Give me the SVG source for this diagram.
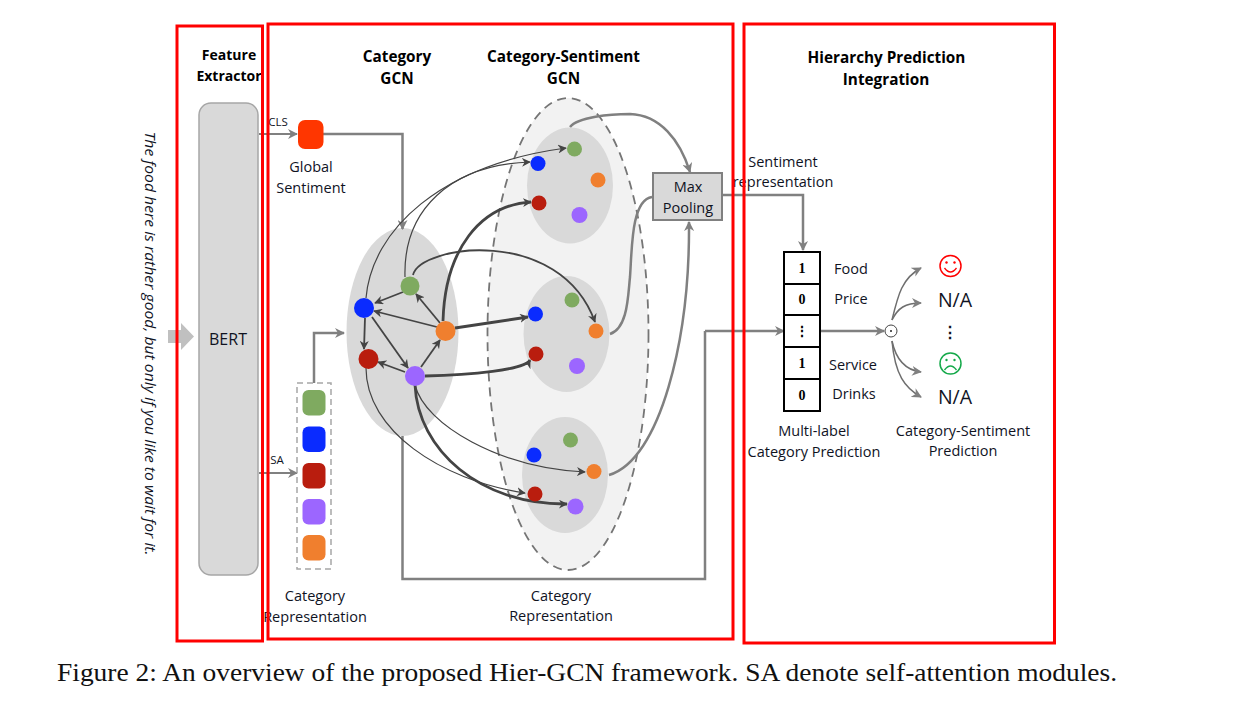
<svg xmlns="http://www.w3.org/2000/svg" width="1256" height="715" viewBox="0 0 1256 715">
<style>
text{font-family:"Open Sans","Noto Sans",sans-serif;fill:#10131f;text-anchor:middle}
.t{font-size:14.5px}
.h{font-size:15.300px;font-weight:700;fill:#000}
.red{fill:none;stroke:#f00;stroke-width:3}
.g{fill:#7faa60}.b{fill:#0a2bff}.r{fill:#b91d0e}.p{fill:#9c66ff}.o{fill:#f07f2e}
.ell{fill:#d9d9d9}
.gl{fill:none;stroke:#808080;stroke-width:2.5}
.gt{fill:none;stroke:#808080;stroke-width:2}
.gs{fill:none;stroke:#6e6e6e;stroke-width:1.500}
.k1{fill:none;stroke:#444;stroke-width:1.2;marker-end:url(#ak)}
.k2{fill:none;stroke:#444;stroke-width:1.800;marker-end:url(#ak)}
.k3{fill:none;stroke:#444;stroke-width:2.800;marker-end:url(#ak)}
.cell{fill:#fff;stroke:#000;stroke-width:2}
.num{font-family:"Liberation Serif",serif;font-weight:700;font-size:14px;fill:#000}
</style>
<defs>
<marker id="ak" viewBox="0 0 10 10" refX="9" refY="5" markerWidth="9" markerHeight="9" markerUnits="userSpaceOnUse" orient="auto"><path d="M0 0L10 5L0 10L3 5z" fill="#444"/></marker>
<marker id="ag" viewBox="0 0 10 10" refX="9" refY="5" markerWidth="10" markerHeight="10" markerUnits="userSpaceOnUse" orient="auto"><path d="M0 0L10 5L0 10L3 5z" fill="#808080"/></marker>
</defs>
<rect width="1256" height="715" fill="#fff"/>
<g id="input-sentence"><text transform="translate(145 343.500) rotate(90)" font-size="15" font-style="italic" textLength="424" lengthAdjust="spacingAndGlyphs">The food here is rather good, but only if you like to wait for it.</text>
<path d="M168 330H181V323L194 336.500L181 350V343H168z" fill="#c0c0c0"/></g>
<g id="bert"><rect x="199" y="103" width="59" height="472" rx="12" fill="#d9d9d9" stroke="#a6a6a6" stroke-width="1.5"/><text x="228" y="345" font-size="16">BERT</text></g>
<g id="titles">
<text class="h" x="229" y="60" style="font-size:14px">Feature</text><text class="h" x="229" y="81" style="font-size:14px">Extractor</text>
<text class="h" x="397" y="62">Category</text><text class="h" x="397" y="84">GCN</text>
<text class="h" x="563.500" y="62">Category-Sentiment</text><text class="h" x="563.500" y="84">GCN</text>
<text class="h" x="886.500" y="63">Hierarchy Prediction</text><text class="h" x="886" y="85">Integration</text>
</g>
<g id="cs-gcn"><ellipse cx="568" cy="334" rx="80.500" ry="236" fill="#f2f2f2" stroke="#757575" stroke-width="1.800" stroke-dasharray="9 6"/></g>
<g id="cat-ellipse"><ellipse class="ell" cx="402.500" cy="332" rx="56" ry="104"/></g>
<g id="sub1"><ellipse class="ell" cx="570" cy="185.500" rx="43" ry="58"/></g>
<g id="sub2"><ellipse class="ell" cx="566.500" cy="334" rx="43" ry="58"/></g>
<g id="sub3"><ellipse class="ell" cx="565" cy="475" rx="43" ry="58"/></g>
<g id="connectors">
<path class="gt" marker-end="url(#ag)" d="M259 134H297"/>
<path class="gl" marker-end="url(#ag)" d="M323 134H402.500V229"/>
<path class="gt" marker-end="url(#ag)" d="M259 473H297"/>
<path class="gl" marker-end="url(#ag)" d="M314 383V333H344"/>
<path class="gl" d="M402.500 436V579H705V331"/>
<path class="gl" marker-end="url(#ag)" d="M705 331H784"/>
<path class="gl" d="M570 127C578 117 610 114 630 114C660 115 680 140 690 172" marker-end="url(#ag)"/>
<path class="gl" d="M610 334C628 328 628 295 630 277C632 250 631 200 652 197"/>
<path class="gl" marker-end="url(#ag)" d="M609 475C660 460 690 340 689 222"/>
<path class="gl" marker-end="url(#ag)" d="M722 195H803V250"/>
<path class="gl" marker-end="url(#ag)" d="M821 331H884"/>
<path class="gs" marker-end="url(#ag)" d="M892 320C898 295 902 278 921 268"/>
<path class="gs" marker-end="url(#ag)" d="M892 320C898 308 905 303 921 303"/>
<path class="gs" marker-end="url(#ag)" d="M892 341C896 360 905 370 921 372"/>
<path class="gs" marker-end="url(#ag)" d="M892 341C895 375 905 388 921 397"/>
<path class="k2" d="M403 292L375 303"/>
<path class="k2" d="M440 323L416 294"/>
<path class="k2" d="M437 327L374 311"/>
<path class="k2" d="M365 318L364 349"/>
<path class="k2" d="M372 317L408 368"/>
<path class="k2" d="M405 372L378 362"/>
<path class="k2" d="M421 367L440 340"/>
<path class="k1" d="M366 298C372 230 440 165 566 148"/>
<path class="k1" d="M405 277C403 210 450 165 530 162"/>
<path class="k3" d="M443 321C445 250 480 205 531 202"/>
<path class="k2" d="M413 275C420 245 560 225 595 322"/>
<path class="k3" d="M455 328L528 317"/>
<path class="k3" d="M425 376C470 375 525 370 530 360"/>
<path class="k1" d="M366 368C366 430 440 480 525 493"/>
<path class="k1" d="M415 385C425 425 500 468 585 472"/>
<path class="k3" d="M415 385C418 450 480 505 567 504"/>
</g>
<g id="cat-nodes"><circle class="g" cx="410" cy="286" r="9.500"/><circle class="b" cx="364" cy="308" r="10"/><circle class="r" cx="368.500" cy="359" r="10"/><circle class="p" cx="415" cy="376" r="10"/><circle class="o" cx="445.500" cy="331" r="10"/></g>
<g id="sub1-nodes"><circle class="g" cx="574.500" cy="149" r="7.500"/><circle class="b" cx="538" cy="163.500" r="7.500"/><circle class="o" cx="598" cy="180" r="7.500"/><circle class="r" cx="539" cy="203" r="7.500"/><circle class="p" cx="579.500" cy="215" r="8"/></g>
<g id="sub2-nodes"><circle class="g" cx="572" cy="300" r="7.500"/><circle class="b" cx="535.500" cy="314" r="7.500"/><circle class="o" cx="596" cy="331" r="7.500"/><circle class="r" cx="536" cy="354" r="7.500"/><circle class="p" cx="577" cy="366" r="8"/></g>
<g id="sub3-nodes"><circle class="g" cx="570.500" cy="440" r="7.500"/><circle class="b" cx="534" cy="455" r="7.500"/><circle class="o" cx="594" cy="471.500" r="7.500"/><circle class="r" cx="535" cy="494" r="7.500"/><circle class="p" cx="575.500" cy="506.500" r="8"/></g>
<g id="cls"><text x="278" y="126" font-size="11.500">CLS</text></g>
<g id="sa"><text x="277" y="464" font-size="11.500">SA</text></g>
<g id="global-sentiment"><rect x="298" y="120" width="25.500" height="29" rx="7" fill="#ff3600"/><text class="t" x="311" y="172">Global</text><text class="t" x="311" y="193">Sentiment</text></g>
<g id="category-representation"><rect x="297" y="383" width="34" height="186" fill="none" stroke="#a6a6a6" stroke-width="1.500" stroke-dasharray="6 4"/>
<rect class="g" x="302.500" y="390" width="23" height="25.500" rx="6"/><rect class="b" x="302.500" y="426.500" width="23" height="25.500" rx="6"/><rect class="r" x="302.500" y="463" width="23" height="25.500" rx="6"/><rect class="p" x="302.500" y="499" width="23" height="25.500" rx="6"/><rect class="o" x="302.500" y="535" width="23" height="25.500" rx="6"/>
<text class="t" x="315" y="601">Category</text><text class="t" x="315" y="622">Representation</text></g>
<g id="category-representation-2"><text class="t" x="561" y="601">Category</text><text class="t" x="561" y="621">Representation</text></g>
<g id="max-pooling"><rect x="653" y="173" width="69" height="47" fill="#d9d9d9" stroke="#808080" stroke-width="2"/><text class="t" x="688" y="192">Max</text><text class="t" x="688" y="213">Pooling</text></g>
<g id="sentiment-representation"><text class="t" x="783" y="167">Sentiment</text><text class="t" x="783" y="187">representation</text></g>
<g id="prediction-table"><rect class="cell" x="784" y="252" width="36" height="32"/><rect class="cell" x="784" y="284" width="36" height="31"/><rect class="cell" x="784" y="315" width="36" height="32"/><rect class="cell" x="784" y="347" width="36" height="32"/><rect class="cell" x="784" y="379" width="36" height="32"/>
<text class="num" x="802" y="273">1</text><text class="num" x="802" y="304">0</text><text class="num" x="802" y="336">⋮</text><text class="num" x="802" y="368">1</text><text class="num" x="802" y="400">0</text>
<text class="t" x="851" y="274">Food</text><text class="t" x="851" y="304">Price</text><text class="t" x="853" y="370">Service</text><text class="t" x="854" y="399">Drinks</text>
<text class="t" x="814" y="436">Multi-label</text><text class="t" x="814" y="457">Category Prediction</text></g>
<g id="dot-product"><circle cx="891" cy="331" r="6" fill="#fff" stroke="#444" stroke-width="1"/><circle cx="891" cy="331" r="1" fill="#222"/></g>
<g id="happy"><circle cx="950.500" cy="266" r="10.500" fill="none" stroke="#f00" stroke-width="1.500"/><circle cx="946.500" cy="262.500" r="1.200" fill="#f00"/><circle cx="954.500" cy="262.500" r="1.200" fill="#f00"/><path d="M944.500 268Q950.500 276 956.500 268" fill="none" stroke="#f00" stroke-width="1.300"/></g>
<g id="sad"><circle cx="950.500" cy="363.500" r="10.500" fill="none" stroke="#15a94a" stroke-width="1.500"/><circle cx="946.500" cy="360" r="1.200" fill="#15a94a"/><circle cx="954.500" cy="360" r="1.200" fill="#15a94a"/><path d="M944.500 370Q950.500 362 956.500 370" fill="none" stroke="#15a94a" stroke-width="1.300"/></g>
<g id="outputs"><text x="955" y="307" font-size="19.500">N/A</text><text x="950" y="338" font-size="16" font-weight="700">⋮</text><text x="955" y="404" font-size="19.500">N/A</text>
<text class="t" x="963" y="436">Category-Sentiment</text><text class="t" x="963" y="456">Prediction</text></g>
<g id="regions"><rect class="red" x="177" y="26" width="85.500" height="615"/><rect class="red" x="268" y="24" width="465" height="615"/><rect class="red" x="744" y="24" width="310.500" height="619"/></g>
<g id="caption"><text x="57" y="681" font-size="25" textLength="1060" lengthAdjust="spacingAndGlyphs" style="font-family:'Liberation Serif',serif;text-anchor:start;fill:#111">Figure 2: An overview of the proposed Hier-GCN framework. SA denote self-attention modules.</text></g>
</svg>
